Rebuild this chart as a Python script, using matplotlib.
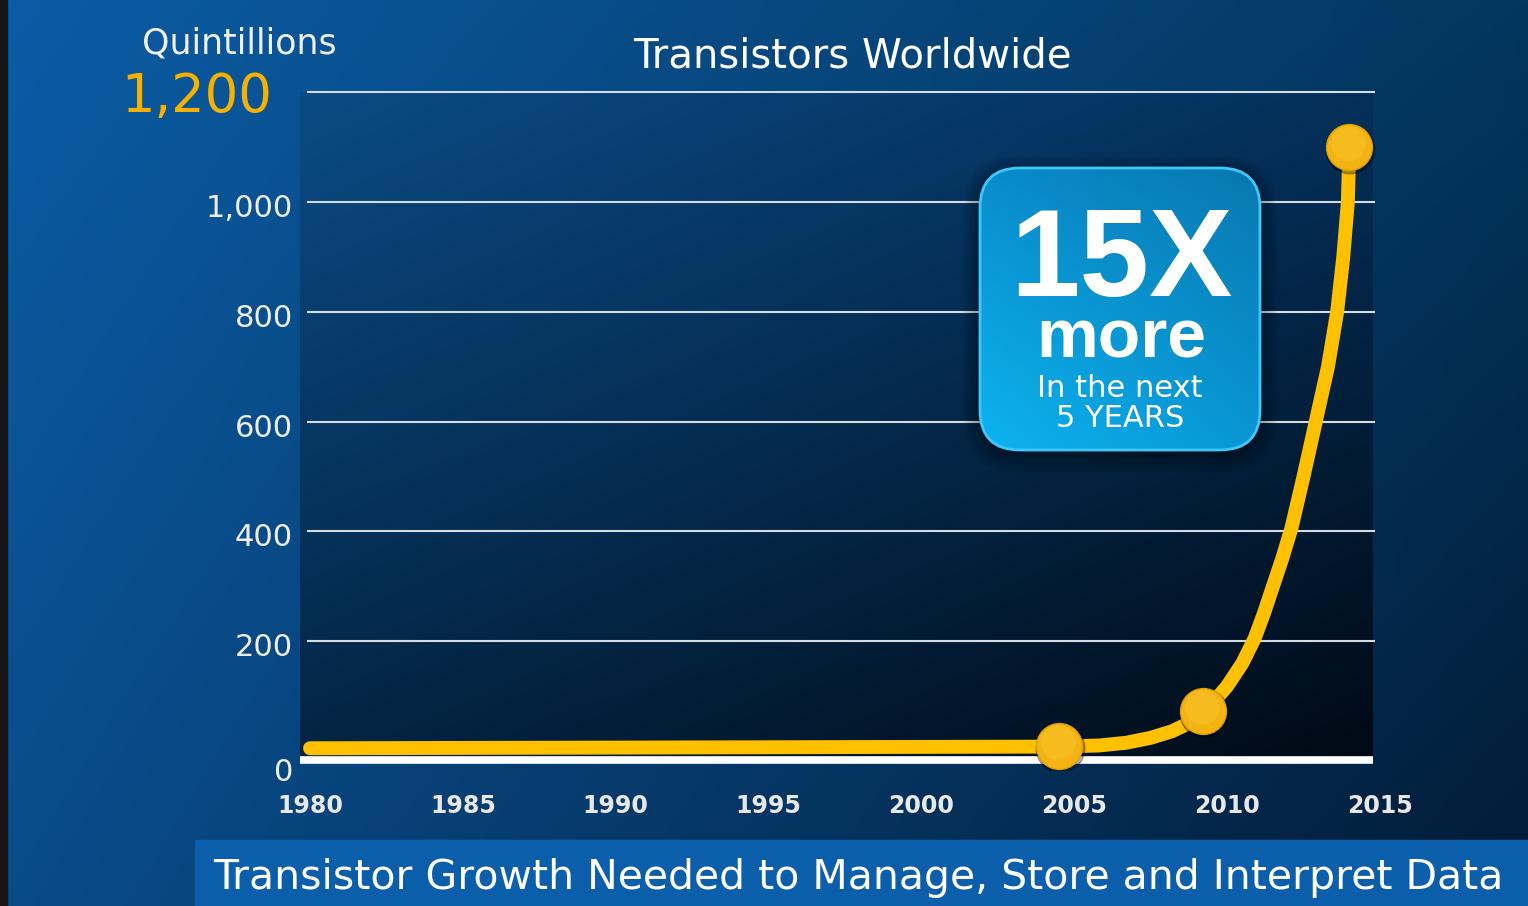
import numpy as np
import matplotlib
matplotlib.use('Agg')
import matplotlib.pyplot as plt
import matplotlib.colors as mcolors
from matplotlib import transforms
from matplotlib.patches import FancyBboxPatch, Rectangle

# data (quintillions of transistors)
curve_years = [1980, 2004.5, 2005.8, 2006.7, 2007.5, 2008.2, 2008.8, 2009.2, 2009.6, 2010.0,
               2010.5, 2010.9, 2011.2, 2011.5, 2011.8, 2012.1, 2012.5, 2012.9, 2013.3, 2013.6,
               2013.8, 2013.95, 2014.0]
curve_values = [5, 8, 10, 15, 24, 36, 52, 72, 92, 118,
                160, 205, 250, 300, 350, 405, 500, 600, 700, 800,
                900, 1000, 1100]
point_years = [2004.5, 2009.2, 2014.0]
point_values = [10, 72, 1100]

x_ticks = [1980, 1985, 1990, 1995, 2000, 2005, 2010, 2015]
y_ticks = [0, 200, 400, 600, 800, 1000, 1200]
y_labels = ['0', '200', '400', '600', '800', '1,000', '1,200']

title = 'Transistors Worldwide'
unit = 'Quintillions'
banner = 'Transistor Growth Needed to Manage, Store and Interpret Data'
callout = ['15X', 'more', 'In the next', '5 YEARS']

W, H = 1528, 906


def grad(tl, tr, bl, br, n=256):
    t = np.linspace(0, 1, n)
    X, Y = np.meshgrid(t, t)
    c = lambda h: np.array(mcolors.to_rgb(h))
    img = (((1 - X) * (1 - Y))[..., None] * c(tl) + (X * (1 - Y))[..., None] * c(tr)
           + ((1 - X) * Y)[..., None] * c(bl) + (X * Y)[..., None] * c(br))
    return img


fig = plt.figure(figsize=(W / 100, H / 100), dpi=100)

# background layer, pixel coordinates
bg = fig.add_axes([0, 0, 1, 1], zorder=0)
bg.imshow(grad('#0b5ca5', '#03375f', '#094c8a', '#021b36'), extent=(0, W, H, 0), aspect='auto')
bg.set_xlim(0, W)
bg.set_ylim(H, 0)
bg.axis('off')

# main chart axes
px_x = lambda p: 1980 + (p - 310) / 30.57
px_y = lambda p: (751 - p) / 0.549
ax = fig.add_axes([300 / W, (H - 770) / H, 1080 / W, 690 / H], zorder=1)
ax.patch.set_alpha(0)
ax.imshow(grad('#0b4b85', '#04305a', '#032544', '#010a15'),
          extent=(px_x(300), px_x(1372), px_y(757), 1200), aspect='auto', zorder=1)
ax.hlines(y_ticks[1:], px_x(307), px_x(1375), color='#d6dce4', lw=1.5, zorder=2)
ax.hlines(px_y(760), px_x(300), px_x(1373), color='white', lw=5.5, zorder=2)

ax.plot(curve_years, curve_values, color='#ffc000', lw=10, solid_capstyle='round',
        solid_joinstyle='round', zorder=4)
shadow = transforms.offset_copy(ax.transData, fig, x=1, y=-2, units='dots')
ax.plot(point_years, point_values, 'o', ms=35, color='black', alpha=0.3, transform=shadow, zorder=5)
ax.plot(point_years, point_values, 'o', ms=33, mfc='#f3b312', mec='#e2a200', mew=1, zorder=6)
hi = transforms.offset_copy(ax.transData, fig, x=-1, y=4, units='dots')
ax.plot(point_years, point_values, 'o', ms=25, mfc='#ffcf3a', mec='none', alpha=0.3, transform=hi, zorder=7)

ax.set_xlim(px_x(300), px_x(1380))
ax.set_ylim(px_y(770), px_y(80))
ax.axis('off')

# tick labels
for yr in x_ticks:
    ax.text(yr, px_y(813), str(yr), ha='center', va='baseline', fontsize=17,
            fontweight='bold', color='#e8e8e8', clip_on=False)
for v, lab in zip(y_ticks[:-1], y_labels[:-1]):
    off = transforms.offset_copy(ax.transData, fig, y=-(30 if v == 0 else 15), units='dots')
    ax.text(px_x(293), v, lab, ha='right', va='baseline', fontsize=22, color='#eeeeee',
            transform=off, clip_on=False)

# overlay layer: labels, callout box, banner
top = fig.add_axes([0, 0, 1, 1], zorder=3)
top.patch.set_alpha(0)

top.text(239, 53, unit, ha='center', va='baseline', fontsize=25, color='#f0f0f0')
top.text(197, 112, y_labels[-1], ha='center', va='baseline', fontsize=38, color='#f5b000')
top.text(852, 68, title, ha='center', va='baseline', fontsize=29, color='white')

# callout box with soft shadow
for k in range(6):
    s = 2 + k * 3
    top.add_patch(FancyBboxPatch((980 - s, 168 - s + 5), 280 + 2 * s, 282 + 2 * s,
                                 boxstyle='round,pad=0,rounding_size=%d' % (40 + s),
                                 fc='black', ec='none', alpha=0.06, zorder=1))
box = FancyBboxPatch((980, 168), 280, 282, boxstyle='round,pad=0,rounding_size=40',
                     fc='none', ec='#3fc8f8', lw=2, zorder=3)
top.add_patch(box)
im = top.imshow(grad('#0a8ccc', '#0878ae', '#0cb4f0', '#0896d4'),
                extent=(980, 1260, 450, 168), aspect='auto', zorder=2)
im.set_clip_path(box)
top.set_xlim(0, W)
top.set_ylim(H, 0)
top.axis('off')

bold = ['Liberation Sans', 'DejaVu Sans']
top.text(1121, 296, callout[0], ha='center', va='baseline', fontsize=90, fontweight='bold',
         family=bold, color='white', zorder=4)
top.text(1121, 358, callout[1], ha='center', va='baseline', fontsize=50, fontweight='bold',
         family=bold, color='white', zorder=4)
top.text(1120, 397, callout[2], ha='center', va='baseline', fontsize=22, color='white', zorder=4)
top.text(1120, 427, callout[3], ha='center', va='baseline', fontsize=22, color='white', zorder=4)

top.add_patch(Rectangle((195, 840), W - 195, H - 840, color='#0a5eaa'))
top.text(213, 889, banner, ha='left', va='baseline', fontsize=29.5, color='white')
top.add_patch(Rectangle((0, 0), 7, H, color='#151515'))

fig.savefig('out.png', dpi=100)
